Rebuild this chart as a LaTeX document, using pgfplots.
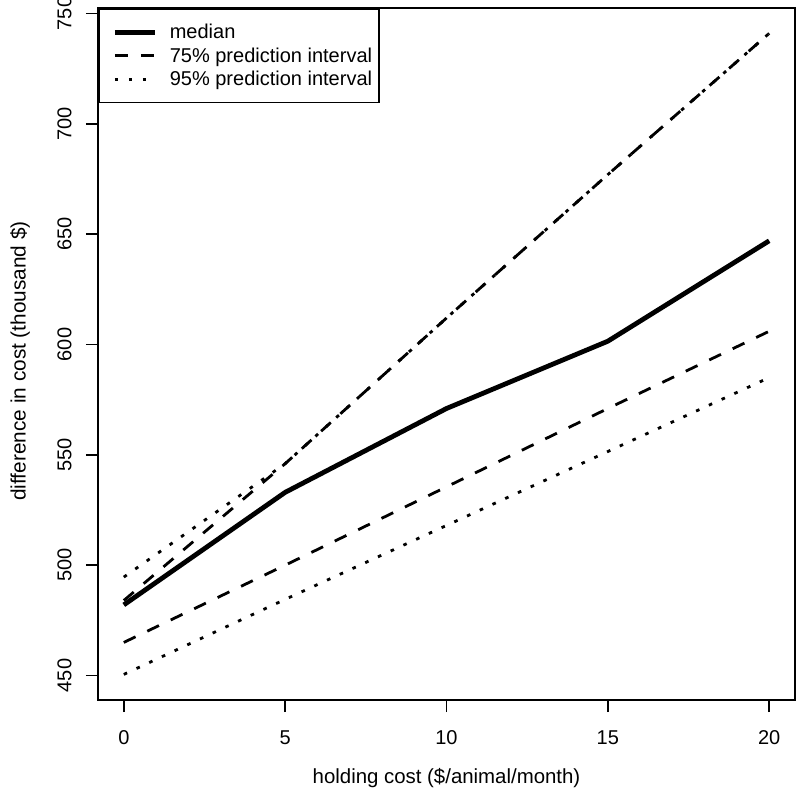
\documentclass[border=0pt]{standalone}
\usepackage{fontspec}
\setmainfont{Liberation Sans}
\usepackage{pgfplots}
\pgfplotsset{compat=1.18}
\begin{document}
\fontsize{10}{12}\selectfont
\begin{tikzpicture}
\begin{axis}[name=ax,
  scale only axis, width=348.5pt, height=346pt,
  xmin=-0.8, xmax=20.8, ymin=438.9, ymax=752.5,
  xtick={0,5,10,15,20}, ytick={450,500,550,600,650,700,750},
  xtick pos=left, ytick pos=left,
  axis line style={line width=0.8pt},
  tick style={line width=0.8pt, black}, tick align=outside, major tick length=6pt,
  /pgf/number format/assume math mode=true,
  /pgf/number format/1000 sep={},
  xticklabel shift=9pt, yticklabel shift=7pt,
  xticklabel style={anchor=north, inner sep=0pt, font=\fontsize{10}{12}\selectfont},
  yticklabel style={rotate=90, anchor=south, inner sep=0pt, font=\fontsize{10}{12}\selectfont},
  xlabel={holding cost (\$/animal/month)},
  ylabel={difference in cost (thousand \$)},
  xlabel style={at={(axis description cs:0.5,-0.1127)}, anchor=center, inner sep=0pt, font=\fontsize{10.2}{12}\selectfont},
  ylabel style={at={(axis description cs:-0.1119,0.49)}, anchor=center, inner sep=0pt, font=\fontsize{10.4}{12}\selectfont},
  legend cell align=left,
  legend style={at={(0,1)}, anchor=north west, draw=black, line width=0.8pt, fill=white,
    inner xsep=0pt, inner ysep=5.8pt, row sep=0pt,
    font=\fontsize{10}{12}\selectfont,
    nodes={inner sep=0pt, text height=9.3pt, text depth=2.45pt}},
  legend image code/.code={\path[draw=none,fill=none] (0pt,-1pt) rectangle (35.5pt,1pt); \draw[#1] (8pt,0pt) -- (28pt,0pt);},
]
\addplot[black, line width=2.4pt, line join=round] coordinates {(0,482) (5,533) (10,571) (15,601.5) (20,647)};
\addlegendentry{median}
\addplot[black, line width=1.4pt, line cap=butt, dash pattern=on 6.5pt off 6.5pt] coordinates {(0,484) (5,546) (10,612) (15,677) (20,741)};
\addlegendentry{75\% prediction interval\rule{3.5pt}{0pt}}
\addplot[black, line width=1.4pt, line cap=butt, dash pattern=on 1.8pt off 5.2pt] coordinates {(0,494.6) (5,546) (10,612) (15,677) (20,741)};
\addlegendentry{95\% prediction interval\rule{3.5pt}{0pt}}
\addplot[black, line width=1.4pt, line cap=butt, dash pattern=on 6.5pt off 6.5pt, forget plot] coordinates {(0,465) (5,500) (10,535.5) (15,571) (20,606)};
\addplot[black, line width=1.4pt, line cap=butt, dash pattern=on 1.8pt off 5.2pt, forget plot] coordinates {(0,450.5) (5,484.5) (10,518) (15,551.5) (20,585)};
\end{axis}
\pgfresetboundingbox
\path ([shift={(-49pt,-52pt)}]ax.south west) rectangle ([shift={(2.5pt,4pt)}]ax.north east);
\end{tikzpicture}
\end{document}
